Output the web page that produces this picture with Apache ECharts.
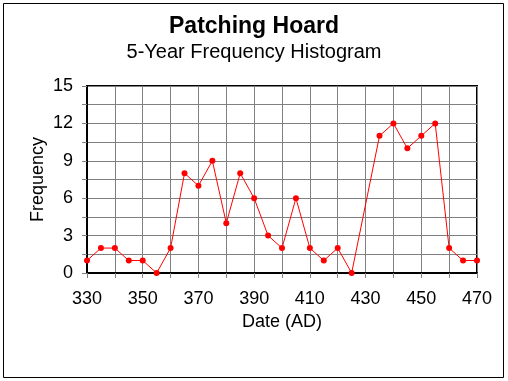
<!DOCTYPE html>
<html><head><meta charset="utf-8">
<script src="https://cdn.jsdelivr.net/npm/echarts@6/dist/echarts.min.js"></script>
<style>html,body{margin:0;padding:0;background:#fff}#c{width:508px;height:381px}</style>
</head><body><div id="c"></div>
<script>
var years = [330,335,340,345,350,355,360,365,370,375,380,385,390,395,400,405,410,415,420,425,430,435,440,445,450,455,460,465,470];
var freq  = [1,2,2,1,1,0,2,8,7,9,4,8,6,3,2,6,2,1,2,0,null,11,12,10,11,12,2,1,1];
var titleText = 'Patching Hoard';
var subtitleText = '5-Year Frequency Histogram';
var xName = 'Date (AD)';
var yName = 'Frequency';

var chart = echarts.init(document.getElementById('c'), null, {renderer:'canvas'});
var font = 'Liberation Sans, Arial, sans-serif';
chart.setOption({
  animation:false,
  backgroundColor:'#fff',
  title:[
    {text:titleText, left:'center', top:10, textStyle:{fontFamily:font, fontSize:23, fontWeight:'bold', color:'#000'}},
    {text:subtitleText, left:'center', top:37, textStyle:{fontFamily:font, fontSize:20, fontWeight:'normal', color:'#000'}}
  ],
  graphic:[{type:'rect', shape:{x:3.5,y:3.5,width:500,height:374}, style:{fill:null, stroke:'#000', lineWidth:1}, silent:true}],
  grid:{left:87, right:31, top:86, bottom:108, show:true, borderColor:'#000', borderWidth:2, backgroundColor:'transparent'},
  xAxis:{type:'value', min:330, max:470, interval:10,
    name:xName, nameLocation:'middle', nameGap:40, nameMoveOverlap:false,
    nameTextStyle:{fontFamily:font, fontSize:18, color:'#000'},
    axisLine:{lineStyle:{color:'#000', width:2}},
    axisTick:{show:true, length:5, lineStyle:{color:'#808080'}},
    axisLabel:{fontFamily:font, fontSize:18, color:'#000', margin:17, showMinLabel:true, showMaxLabel:true,
      formatter:function(v){return ((v-330)%20===0)? String(v):'';}},
    splitLine:{show:true, lineStyle:{color:'#808080', width:1}}
  },
  yAxis:{type:'value', min:0, max:15, interval:1.5,
    name:yName, nameLocation:'middle', nameGap:40, nameRotate:90, nameMoveOverlap:false,
    nameTextStyle:{fontFamily:font, fontSize:18, color:'#000'},
    axisLine:{show:true, lineStyle:{color:'#000', width:2}},
    axisTick:{show:true, length:5, lineStyle:{color:'#808080'}},
    axisLabel:{fontFamily:font, fontSize:18, color:'#000', margin:14,
      formatter:function(v){var r=Math.round(v*10)/10; return (Math.abs(r%3)<1e-6)? String(r):'';}},
    splitLine:{show:true, lineStyle:{color:'#808080', width:1}}
  },
  series:[{type:'line', connectNulls:true,
    data: years.map(function(y,i){return [y, freq[i]];}),
    symbol:'circle', symbolSize:6, showAllSymbol:true,
    lineStyle:{color:'#ff0000', width:1},
    itemStyle:{color:'#ff0000'}
  }]
});
</script></body></html>
